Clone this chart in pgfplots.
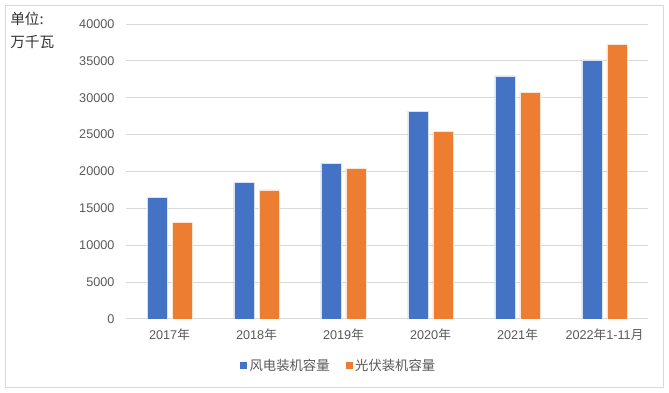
\documentclass[border=0pt]{standalone}
\usepackage{fontspec}
\usepackage{pgfplots}
\pgfplotsset{compat=1.18}
\setmainfont{Liberation Sans}
\newfontfamily\cjk{Noto Sans CJK SC}
\definecolor{wind}{HTML}{4472C4}
\definecolor{solar}{HTML}{ED7D31}
\definecolor{gridc}{HTML}{D9D9D9}
\definecolor{txt}{HTML}{595959}
\begin{document}
\begin{tikzpicture}[x=0.75pt,y=0.75pt]
\path[use as bounding box] (0,0) rectangle (669,393);
\draw[gridc, line width=0.75pt] (5.5,5.5) rectangle (663.5,387.5);
\node[anchor=north west, align=left, font=\cjk\fontsize{11pt}{17pt}\selectfont, text=black!80, inner sep=0pt] at (10,381) {单位:\\万千瓦};
\begin{axis}[
  at={(94.5pt,55.5pt)}, anchor=south west,
  scale only axis, width=391.5pt, height=221.25pt,
  ybar=3.75pt, bar width=15pt,
  xmin=-0.5, xmax=5.5, ymin=0, ymax=40000,
  ytick={0,5000,...,40000},
  scaled y ticks=false,
  xtick={0,...,5},
  xticklabels={2017{\cjk 年},2018{\cjk 年},2019{\cjk 年},2020{\cjk 年},2021{\cjk 年},2022{\cjk 年}1-11{\cjk 月}},
  extra x ticks={-0.5,0.5,1.5,2.5,3.5,4.5,5.5},
  extra x tick labels={},
  extra x tick style={major tick length=4pt, tick style={draw=gridc!80!black, line width=0.75pt}, grid=none},
  x tick style={draw=none},
  y tick style={draw=none},
  axis x line=bottom, axis y line=left,
  axis line style={-},
  x axis line style={draw=gridc, line width=0.75pt},
  y axis line style={draw=none},
  ymajorgrids, grid style={gridc, line width=0.75pt},
  tick label style={font=\fontsize{9.5pt}{11pt}\selectfont, text=txt},
  yticklabel style={xshift=-3pt},
  xticklabel style={yshift=-2pt},
  /pgf/number format/assume math mode=true,
  /pgf/number format/set thousands separator={},
  legend style={at={(0.408,-0.159)}, anchor=center, draw=none, legend columns=2,
     font=\cjk\fontsize{10pt}{12pt}\selectfont, text=txt,
     /tikz/every even column/.append style={column sep=10pt}},
  legend image code/.code={\fill[#1,draw=none] (0pt,-2.6pt) rectangle (5.2pt,2.6pt);},
  legend cell align=left,
]
\addplot[fill=wind, draw=white!80!wind, line width=0.4pt] coordinates {(0,16450) (1,18500) (2,21050) (3,28200) (4,32950) (5,35150)};
\addplot[fill=solar, draw=white!80!solar, line width=0.4pt] coordinates {(0,13100) (1,17500) (2,20470) (3,25400) (4,30700) (5,37250)};
\legend{风电装机容量,光伏装机容量}
\end{axis}
\end{tikzpicture}
\end{document}
